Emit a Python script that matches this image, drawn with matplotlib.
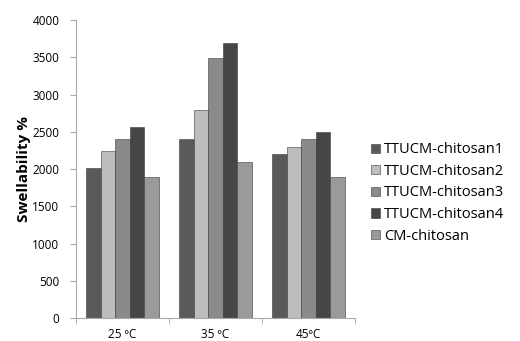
import matplotlib.pyplot as plt
import numpy as np

categories = ['25 ºC', '35 ºC', '45ºC']
series_names = ['TTUCM-chitosan1', 'TTUCM-chitosan2', 'TTUCM-chitosan3',
                'TTUCM-chitosan4', 'CM-chitosan']
chitosan1 = [2020, 2410, 2200]
chitosan2 = [2250, 2790, 2300]
chitosan3 = [2400, 3490, 2400]
chitosan4 = [2570, 3690, 2500]
cm_chitosan = [1890, 2090, 1890]
colors = ['#5a5a5a', '#bdbdbd', '#8a8a8a', '#464646', '#9a9a9a']

plt.rcParams['font.family'] = ['Open Sans', 'DejaVu Sans']
fig = plt.figure(figsize=(5.2, 3.41), dpi=100)
ax = fig.add_axes([0.146, 0.067, 0.537, 0.874])

x = np.arange(len(categories))
w = 0.156
all_series = [chitosan1, chitosan2, chitosan3, chitosan4, cm_chitosan]
for i, vals in enumerate(all_series):
    ax.bar(x + (i - 2) * w, vals, width=w, color=colors[i],
           edgecolor='#3a3a3a', linewidth=0.4, label=series_names[i])

ax.set_xlim(-0.5, 2.5)
ax.set_ylim(0, 4000)
ax.set_yticks(range(0, 4001, 500))
ax.set_xticks(x)
ax.set_xticklabels(categories, fontsize=8.5)
ax.set_xticks([-0.5, 0.5, 1.5, 2.5], minor=True)
ax.tick_params(axis='x', which='major', length=0, pad=7)
ax.tick_params(axis='x', which='minor', length=4, color='#aaaaaa')
ax.tick_params(axis='y', length=4, color='#aaaaaa', labelsize=8.5, pad=8)
for s in ['top', 'right']:
    ax.spines[s].set_visible(False)
for s in ['left', 'bottom']:
    ax.spines[s].set_color('#aaaaaa')
ax.set_ylabel('Swellability %', fontsize=11, fontweight='bold', labelpad=1)

ax.legend(loc='center left', bbox_to_anchor=(1.01, 0.42), frameon=False,
          fontsize=10.5, handlelength=0.6, handleheight=0.6, handletextpad=0.3,
          labelspacing=0.45)

fig.savefig('out.png', dpi=100)
